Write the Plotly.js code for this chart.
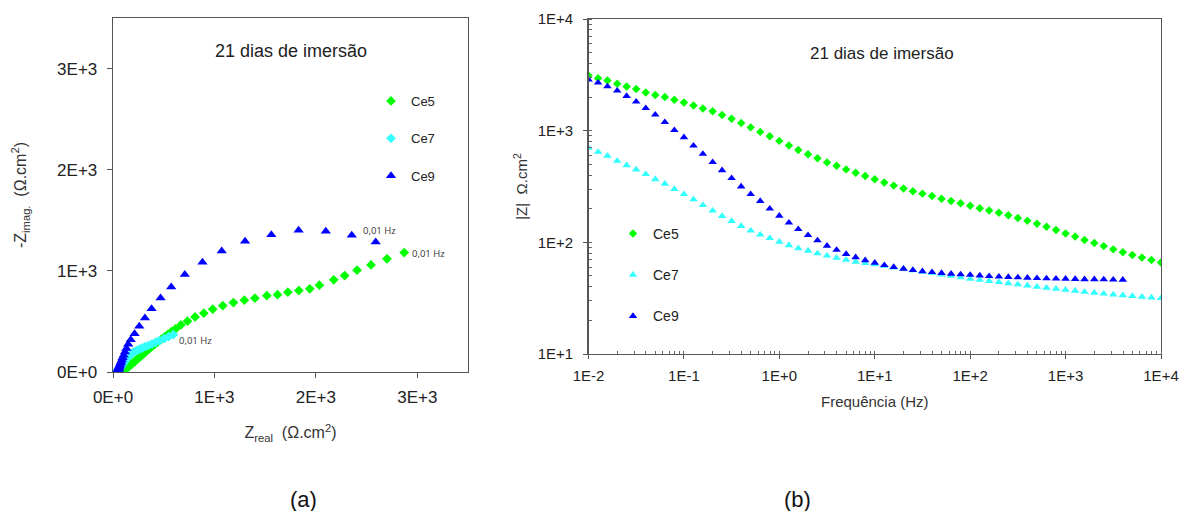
<!DOCTYPE html>
<html>
<head>
<meta charset="utf-8">
<script src="https://cdn.plot.ly/plotly-3.0.1.min.js"></script>
<style>html,body{margin:0;padding:0;background:#fff;}#chart{width:1181px;height:511px;}</style>
</head>
<body>
<div id="chart"></div>
<script>
// ---------- (a) Nyquist data (Ω.cm²) ----------
const ce5Real = [2871, 2701, 2544, 2406, 2284, 2176, 2035, 1940, 1832, 1724, 1622, 1517, 1399, 1295, 1187, 1082, 983, 895, 809, 734, 669, 616,
  575, 540, 505, 472, 440, 410, 382, 356, 332, 310, 290, 271, 253, 236, 220, 205, 191, 178, 166, 155, 145, 136, 127, 119, 112, 105, 99, 94, 89, 85, 81, 77, 74, 71, 69, 67, 65, 64, 63];
const ce5Imag = [1181, 1119, 1059, 1007, 954, 911, 858, 822, 805, 789, 765, 755, 730, 710, 686, 656, 621, 581, 545, 502, 465, 426,
  398, 372, 345, 320, 296, 272, 250, 228, 208, 189, 171, 154, 138, 123, 109, 96, 84, 73, 63, 54, 46, 39, 33, 28, 23, 19, 16, 13, 11, 9, 7.5, 6, 5, 4, 3, 2.3, 1.7, 1.2, 0.8];

const ce7Real = [595, 548, 505, 458, 420, 385, 350, 318, 290, 264, 240, 218, 198, 180, 163, 148, 134, 121, 110, 100, 91, 84, 78, 73, 69, 65, 62, 59, 57, 55,
  54, 52.5, 51, 49.5, 48, 47, 45.5, 44, 43, 42, 41, 40, 39, 38.5, 38, 37.3, 36.6, 36, 35.5, 35, 34.5, 34, 33.5, 33, 32.5, 32, 31.5, 31, 30.7, 30.4, 30];
const ce7Imag = [370, 349, 330, 310, 294, 278, 263, 250, 238, 227, 216, 205, 193, 179, 163, 146, 129, 112, 97, 84, 72, 62, 53, 45, 39, 34, 29, 26, 23, 20.5,
  18, 16.5, 15, 14, 13, 12, 11, 10.5, 10, 9.5, 9, 8.5, 8, 7.7, 7.4, 7, 6.7, 6.4, 6.1, 5.8, 5.5, 5.2, 5, 4.7, 4.5, 4.2, 4, 3.8, 3.6, 3.4, 3.2];

const ce9Real = [2590, 2354, 2098, 1830, 1561, 1302, 1072, 882, 708, 574, 469, 380, 315, 259, 213, 175, 150, 132, 118, 105, 95, 87, 80, 74, 69, 65, 62, 59, 57, 55,
  54, 53, 52, 51, 50.5, 50, 49.5, 49, 48.8, 48.5, 48.2, 48, 47.8, 47.6, 47.4, 47.2, 47.1, 47, 46.9, 46.8, 46.7, 46.6, 46.5, 46.5, 46.4, 46.4, 46.3];
const ce9Imag = [1286, 1352, 1391, 1401, 1358, 1292, 1197, 1085, 963, 841, 732, 626, 534, 452, 379, 320, 275, 232, 198, 165, 140, 118, 100, 86, 74, 63, 55, 47, 41, 36,
  32, 28, 25, 22, 20, 18, 16, 14, 12.5, 11, 10, 9, 8, 7, 6.3, 5.6, 5, 4.4, 3.9, 3.4, 3, 2.6, 2.3, 2, 1.7, 1.4, 1.2];

// ---------- (b) Bode data ----------
const freq = [0.01, 0.0126, 0.0158, 0.02, 0.0251, 0.0316, 0.0398, 0.0501, 0.0631, 0.0794,
  0.1, 0.126, 0.158, 0.2, 0.251, 0.316, 0.398, 0.501, 0.631, 0.794,
  1, 1.26, 1.58, 2, 2.51, 3.16, 3.98, 5.01, 6.31, 7.94,
  10, 12.6, 15.8, 20, 25.1, 31.6, 39.8, 50.1, 63.1, 79.4,
  100, 126, 158, 200, 251, 316, 398, 501, 631, 794,
  1000, 1260, 1580, 2000, 2510, 3160, 3980, 5010, 6310, 7940, 10000];
const freqCe9 = [0.01, 0.0126, 0.0158, 0.02, 0.0251, 0.0316, 0.0398, 0.0501, 0.0631, 0.0794,
  0.1, 0.126, 0.158, 0.2, 0.251, 0.316, 0.398, 0.501, 0.631, 0.794,
  1, 1.26, 1.58, 2, 2.51, 3.16, 3.98, 5.01, 6.31, 7.94,
  10, 12.6, 15.8, 20, 25.1, 31.6, 39.8, 50.1, 63.1, 79.4,
  100, 126, 158, 200, 251, 316, 398, 501, 631, 794,
  1000, 1260, 1580, 2000, 2510, 3160, 3980];
const ce5Mod = [3120, 2950, 2810, 2630, 2490, 2360, 2200, 2090, 2000, 1890,
  1790, 1680, 1580, 1490, 1380, 1280, 1170, 1070, 975, 890,
  810, 735, 670, 615, 565, 520, 485, 450, 420, 392,
  367, 343, 322, 303, 287, 273, 260, 246, 235, 224,
  213, 202, 193, 184, 175, 165, 156, 147, 138, 129,
  120, 113, 105, 98.5, 92.5, 86.5, 81.5, 77, 73, 69.5, 66];
const ce7Mod = [700, 645, 595, 536, 490, 449, 408, 367, 334, 299,
  270, 242, 215, 192, 172, 155, 140, 127, 117, 109,
  101, 94, 88.5, 84, 79.5, 76, 72.5, 69.5, 67, 65,
  63.5, 61.5, 59.5, 58, 56, 54.5, 53, 51.5, 50, 48.5,
  47, 46, 45, 44, 43, 42, 41, 40, 39.2, 38.4,
  37.6, 36.8, 36, 35.3, 34.7, 34.1, 33.5, 33, 32.5, 32, 31.6];
const ce9Mod = [2870, 2690, 2490, 2280, 2040, 1820, 1590, 1390, 1190, 1010,
  871, 734, 619, 522, 442, 375, 316, 270, 234, 200,
  173, 150, 131, 116, 104, 93, 85.5, 78.5, 73.5, 69,
  65.5, 62.5, 60, 58, 56.5, 55, 54, 53, 52.3, 51.6,
  51, 50.4, 49.8, 49.3, 48.9, 48.5, 48.1, 47.8, 47.5, 47.3,
  47.1, 46.9, 46.7, 46.6, 46.5, 46.3, 46.2];

// ---------- labels ----------
const seriesNames = ['Ce5', 'Ce7', 'Ce9'];
const nyqTickVals = [0, 1000, 2000, 3000];
const nyqTickText = ['0E+0', '1E+3', '2E+3', '3E+3'];
const freqTickVals = [0.01, 0.1, 1, 10, 100, 1000, 10000];
const freqTickText = ['1E-2', '1E-1', '1E+0', '1E+1', '1E+2', '1E+3', '1E+4'];
const modTickVals = [10, 100, 1000, 10000];
const modTickText = ['1E+1', '1E+2', '1E+3', '1E+4'];
const panelTitle = '21 dias de imersão';
const lowFreqLabel = '0,01 Hz';

const FONT = 'Liberation Sans, Arial, sans-serif';
const C5 = '#00ff00', C7 = '#33ffff', C9 = '#0000ff';
const W = 1181, H = 511;
const px = v => v / W, py = v => (H - v) / H;

const traces = [
  {x: ce5Real, y: ce5Imag, name: seriesNames[0], type: 'scatter', mode: 'markers', xaxis: 'x', yaxis: 'y',
   marker: {symbol: 'diamond', size: 7.5, color: C5}, legend: 'legend', legendgroup: 'a5'},
  {x: ce7Real, y: ce7Imag, name: seriesNames[1], type: 'scatter', mode: 'markers', xaxis: 'x', yaxis: 'y',
   marker: {symbol: 'diamond', size: 7.5, color: C7}, legend: 'legend', legendgroup: 'a7'},
  {x: ce9Real, y: ce9Imag, name: seriesNames[2], type: 'scatter', mode: 'markers', xaxis: 'x', yaxis: 'y',
   marker: {symbol: 'triangle-up', size: 9, color: C9}, legend: 'legend', legendgroup: 'a9'},
  {x: freq, y: ce5Mod, name: seriesNames[0], type: 'scatter', mode: 'markers', xaxis: 'x2', yaxis: 'y2',
   marker: {symbol: 'diamond', size: 6.5, color: C5}, legend: 'legend2', legendgroup: 'b5'},
  {x: freq, y: ce7Mod, name: seriesNames[1], type: 'scatter', mode: 'markers', xaxis: 'x2', yaxis: 'y2',
   marker: {symbol: 'triangle-up', size: 7.5, color: C7}, legend: 'legend2', legendgroup: 'b7'},
  {x: freqCe9, y: ce9Mod, name: seriesNames[2], type: 'scatter', mode: 'markers', xaxis: 'x2', yaxis: 'y2',
   marker: {symbol: 'triangle-up', size: 7.5, color: C9}, legend: 'legend2', legendgroup: 'b9'}
];

const baseAx = {showgrid: false, zeroline: false, showline: true, mirror: true, linecolor: '#555', linewidth: 1.3,
  tickcolor: '#555', tickfont: {family: FONT, color: '#222'}};

const layout = {
  width: W, height: H,
  margin: {l: 0, r: 0, t: 0, b: 0},
  paper_bgcolor: '#fff', plot_bgcolor: '#fff',
  font: {family: FONT, color: '#222'},
  showlegend: true,
  xaxis: Object.assign({}, baseAx, {
    domain: [px(113), px(468)], anchor: 'y', range: [0, 3500],
    tickmode: 'array', tickvals: nyqTickVals, ticktext: nyqTickText,
    ticks: 'outside', ticklen: 5, tickfont: {family: FONT, size: 17, color: '#222'}, ticklabelstandoff: 4,
    title: {text: 'Z<sub>real</sub>  (Ω.cm<sup>2</sup>)', font: {family: FONT, size: 16, color: '#333'}, standoff: 21}
  }),
  yaxis: Object.assign({}, baseAx, {
    domain: [py(372), py(18)], anchor: 'x', range: [0, 3500],
    tickmode: 'array', tickvals: nyqTickVals, ticktext: nyqTickText,
    ticks: 'outside', ticklen: 5, tickfont: {family: FONT, size: 17, color: '#222'}, ticklabelstandoff: 6,
    title: {text: '-Z<sub>imag.</sub>  (Ω.cm<sup>2</sup>)', font: {family: FONT, size: 16, color: '#333'}, standoff: 26}
  }),
  xaxis3: {overlaying: 'x', anchor: 'y', range: [0, 3500], tickmode: 'array', tickvals: nyqTickVals,
    ticks: 'inside', ticklen: 5, tickcolor: '#555', showticklabels: false, showline: false, showgrid: false, zeroline: false},
  yaxis3: {overlaying: 'y', anchor: 'x', range: [0, 3500], tickmode: 'array', tickvals: nyqTickVals,
    ticks: 'inside', ticklen: 5, tickcolor: '#555', showticklabels: false, showline: false, showgrid: false, zeroline: false},
  xaxis2: Object.assign({}, baseAx, {
    domain: [px(588.5), px(1161)], anchor: 'y2', type: 'log', range: [-2, 4],
    tickmode: 'array', tickvals: freqTickVals, ticktext: freqTickText,
    ticks: 'outside', ticklen: 4, tickfont: {family: FONT, size: 15, color: '#222'}, ticklabelstandoff: 4,
    minor: {ticks: 'inside', ticklen: 3.5, dtick: 'D1', tickcolor: '#666', showgrid: false},
    title: {text: 'Frequência (Hz)', font: {family: FONT, size: 15, color: '#333'}, standoff: 13}
  }),
  yaxis2: Object.assign({}, baseAx, {
    domain: [py(354), py(19)], anchor: 'x2', type: 'log', range: [1, 4],
    tickmode: 'array', tickvals: modTickVals, ticktext: modTickText,
    ticks: 'outside', ticklen: 4, tickfont: {family: FONT, size: 15, color: '#222'}, ticklabelstandoff: 7,
    minor: {ticks: 'inside', ticklen: 3.5, dtick: 'D1', tickcolor: '#666', showgrid: false},
    title: {text: '|Z|  Ω.cm<sup>2</sup>', font: {family: FONT, size: 15, color: '#333'}, standoff: 6}
  }),
  xaxis4: {overlaying: 'x2', anchor: 'y2', type: 'log', range: [-2, 4], tickmode: 'array', tickvals: freqTickVals,
    ticks: 'inside', ticklen: 4, tickcolor: '#555', showticklabels: false, showline: false, showgrid: false, zeroline: false},
  yaxis4: {overlaying: 'y2', anchor: 'x2', type: 'log', range: [1, 4], tickmode: 'array', tickvals: modTickVals,
    ticks: 'inside', ticklen: 5, tickcolor: '#555', showticklabels: false, showline: false, showgrid: false, zeroline: false},
  legend: {x: px(371), y: py(86), xanchor: 'left', yanchor: 'top', bgcolor: 'rgba(0,0,0,0)',
    font: {family: FONT, size: 13, color: '#222'}, tracegroupgap: 17.5, itemwidth: 30, traceorder: 'grouped'},
  legend2: {x: px(613), y: py(218), xanchor: 'left', yanchor: 'top', bgcolor: 'rgba(0,0,0,0)',
    font: {family: FONT, size: 14, color: '#222'}, tracegroupgap: 20, itemwidth: 30, traceorder: 'grouped'},
  annotations: [
    {text: panelTitle, xref: 'paper', yref: 'paper', x: px(291), y: py(51), xanchor: 'center', yanchor: 'middle',
     showarrow: false, font: {family: FONT, size: 18, color: '#222'}},
    {text: panelTitle, xref: 'paper', yref: 'paper', x: px(882), y: py(53), xanchor: 'center', yanchor: 'middle',
     showarrow: false, font: {family: FONT, size: 17, color: '#222'}},
    {text: lowFreqLabel, xref: 'x', yref: 'y', x: ce9Real[0], y: ce9Imag[0], xanchor: 'center', yanchor: 'middle',
     xshift: 4, yshift: 11, showarrow: false, font: {family: 'Open Sans, sans-serif', size: 9.5, color: '#333'}},
    {text: lowFreqLabel, xref: 'x', yref: 'y', x: ce5Real[0], y: ce5Imag[0], xanchor: 'left', yanchor: 'middle',
     xshift: 6, yshift: -1, showarrow: false, font: {family: 'Open Sans, sans-serif', size: 9.5, color: '#333'}},
    {text: lowFreqLabel, xref: 'x', yref: 'y', x: ce7Real[0], y: ce7Imag[0], xanchor: 'left', yanchor: 'middle',
     xshift: 4, yshift: -6, showarrow: false, font: {family: 'Open Sans, sans-serif', size: 9.5, color: '#333'}},
    {text: '(a)', xref: 'paper', yref: 'paper', x: px(304), y: py(499), xanchor: 'center', yanchor: 'middle',
     showarrow: false, font: {family: FONT, size: 22, color: '#111'}},
    {text: '(b)', xref: 'paper', yref: 'paper', x: px(797), y: py(499), xanchor: 'center', yanchor: 'middle',
     showarrow: false, font: {family: FONT, size: 22, color: '#111'}}
  ]
};

Plotly.newPlot('chart', traces, layout, {displayModeBar: false, staticPlot: true});
</script>
</body>
</html>
